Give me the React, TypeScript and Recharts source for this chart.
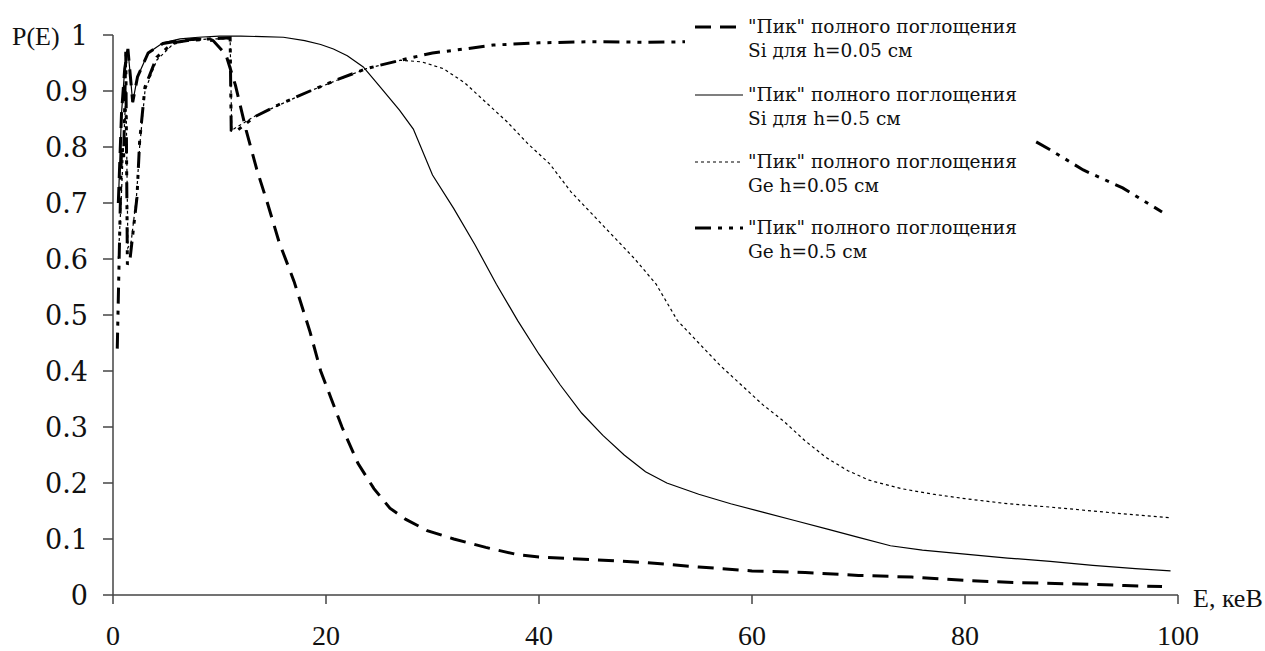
import React from 'react';
import { LineChart, Line, XAxis, YAxis, Legend, Label } from 'recharts';

// [E (keV), P(E)] pairs
const siThin: [number, number][] = [
  [0.5, 0.7], [0.8, 0.86], [1.1, 0.94], [1.4, 0.975], [1.85, 0.88], [2.3, 0.925], [3.3, 0.968],
  [4.7, 0.985], [6.3, 0.99], [8, 0.993], [9.4, 0.99], [10.6, 0.965], [11.5, 0.91], [12.5, 0.83],
  [13.5, 0.76], [14.5, 0.7], [15.6, 0.63], [17, 0.56], [18.5, 0.47], [19.5, 0.4], [20.5, 0.35],
  [21.5, 0.3], [23, 0.235], [24.5, 0.19], [26, 0.155], [27.5, 0.135], [29.5, 0.115], [32, 0.1],
  [35, 0.085], [38, 0.072], [40, 0.068], [45, 0.063], [50, 0.058], [55, 0.05], [60, 0.043],
  [65, 0.04], [70, 0.035], [75, 0.032], [80, 0.026], [85, 0.022], [90, 0.02], [95, 0.017], [98.5, 0.015],
];

const siThick: [number, number][] = [
  [0.5, 0.7], [0.8, 0.86], [1.1, 0.94], [1.4, 0.975], [1.85, 0.88], [2.3, 0.925], [3.3, 0.968],
  [4.7, 0.986], [6.3, 0.993], [8, 0.996], [10, 0.998], [12, 0.998], [14, 0.997], [16, 0.996],
  [18, 0.99], [19.5, 0.983], [20.7, 0.975], [22, 0.963], [23.5, 0.943], [25.1, 0.907], [26.9, 0.866],
  [28.2, 0.832], [30, 0.75], [32, 0.69], [34, 0.625], [36, 0.555], [38, 0.49], [40, 0.43], [42, 0.375],
  [44, 0.325], [46, 0.285], [48, 0.25], [50, 0.22], [52, 0.2], [55, 0.18], [58, 0.163], [61, 0.148],
  [64, 0.133], [67, 0.118], [70, 0.103], [73, 0.088], [76, 0.08], [80, 0.073], [84, 0.066], [88, 0.06],
  [92, 0.053], [96, 0.047], [99.3, 0.043],
];

const geThin: [number, number][] = [
  [0.5, 0.6], [0.8, 0.72], [1.1, 0.85], [1.22, 0.9], [1.4, 0.62], [1.7, 0.63], [2.2, 0.71], [2.5, 0.8],
  [3, 0.9], [4.1, 0.955], [5.6, 0.983], [7, 0.99], [9, 0.993], [11, 0.993], [11.15, 0.83], [13.3, 0.855],
  [18.5, 0.9], [23.8, 0.94], [27, 0.955], [29, 0.952], [31, 0.94], [33, 0.915], [35, 0.88], [37, 0.845],
  [39, 0.805], [41, 0.77], [43, 0.72], [45, 0.68], [47, 0.64], [49, 0.6], [51, 0.555], [53, 0.49],
  [55, 0.45], [57, 0.41], [59, 0.375], [61, 0.34], [63, 0.31], [65, 0.275], [67, 0.245], [69, 0.222],
  [71, 0.205], [74, 0.19], [77, 0.18], [80, 0.172], [84, 0.163], [88, 0.157], [92, 0.15], [96, 0.143],
  [99.3, 0.138],
];

const geThick: [number, number][] = [
  [0.4, 0.44], [0.6, 0.62], [0.8, 0.8], [1.0, 0.78], [1.2, 0.97], [1.35, 0.59], [1.6, 0.6], [2.25, 0.71],
  [2.5, 0.81], [3, 0.907], [4.1, 0.96], [5.6, 0.986], [7, 0.99], [9, 0.993], [11, 0.995], [11.1, 0.83],
  [11.5, 0.827], [13.3, 0.854], [15.5, 0.875], [18.5, 0.9], [21, 0.92], [23.8, 0.94], [27, 0.955],
  [30, 0.968], [33, 0.975], [35.7, 0.982], [40, 0.986], [45, 0.988], [50, 0.987], [54, 0.988],
  [62, 0.97], [70, 0.94], [78, 0.89], [86.6, 0.81], [88, 0.795], [91.1, 0.759], [94.8, 0.727], [98.5, 0.684],
];

const xTicks = [0, 20, 40, 60, 80, 100];
const yTicks = [0, 0.1, 0.2, 0.3, 0.4, 0.5, 0.6, 0.7, 0.8, 0.9, 1];

const legendTitle = '"Пик" полного поглощения';
const legendSubs = ['Si для h=0.05 см', 'Si для h=0.5 см', 'Ge h=0.05 см', 'Ge h=0.5 см'];

const series = [
  { key: 'siThin', points: siThin, width: 3, dash: '16 9' },
  { key: 'siThick', points: siThick, width: 1.2, dash: undefined as string | undefined },
  { key: 'geThin', points: geThin, width: 1.2, dash: '3 3' },
  { key: 'geThick', points: geThick, width: 3, dash: '16 7 4 7 4 7' },
];

const toRows = (pts: [number, number][]) => pts.map(([x, y]) => ({ x, y }));

const LEG_LEFT = 685;
const LEG_TOP = 4;
const legendRowY = [27, 95, 162, 228];

const LegendContent = () => (
  <svg width={350} height={262} style={{ display: 'block' }}>
    {series.map((s, i) => {
      const cy = legendRowY[i] - LEG_TOP;
      return (
        <g key={s.key}>
          <line x1={10} x2={58} y1={cy} y2={cy} stroke="#000" strokeWidth={s.width} strokeDasharray={s.dash} />
          <text x={63} y={cy + 6} fontFamily="DejaVu Serif" fontSize={18.5} fill="#111">{legendTitle}</text>
          <text x={63} y={cy + 30} fontFamily="DejaVu Serif" fontSize={18.5} fill="#111">{legendSubs[i]}</text>
        </g>
      );
    })}
  </svg>
);

export default function App() {
  return (
    <div style={{ position: 'absolute', left: 0, top: 0, width: 1265, height: 651, background: '#fff' }}>
      <LineChart width={1265} height={651} margin={{ top: 35, right: 87, bottom: 0, left: 0 }}>
        <XAxis
          type="number"
          dataKey="x"
          domain={[0, 100]}
          ticks={xTicks}
          allowDataOverflow
          tickSize={9}
          tickMargin={21}
          height={56}
          stroke="#444"
          strokeWidth={1.5}
          tick={{ fontFamily: 'Liberation Serif', fontSize: 28, fill: '#111' }}
        >
          <Label
            content={() => (
              <text x={1193} y={607} fontFamily="Liberation Serif" fontSize={26} fill="#111">E, кеВ</text>
            )}
          />
        </XAxis>
        <YAxis
          type="number"
          domain={[0, 1]}
          ticks={yTicks}
          allowDataOverflow
          width={113}
          tickSize={10}
          tickMargin={15}
          stroke="#444"
          strokeWidth={1.5}
          tickFormatter={(v: number) => String(v)}
          tick={{ fontFamily: 'DejaVu Serif', fontSize: 27, fill: '#111' }}
        >
          <Label
            content={() => (
              <text x={12} y={45} fontFamily="Liberation Serif" fontSize={26} fill="#111">P(E)</text>
            )}
          />
        </YAxis>
        {series.map((s) => (
          <Line
            key={s.key}
            data={toRows(s.points)}
            dataKey="y"
            type="linear"
            stroke="#000"
            strokeWidth={s.width}
            strokeDasharray={s.dash}
            dot={false}
            activeDot={false}
            isAnimationActive={false}
          />
        ))}
        <Legend
          layout="horizontal"
          verticalAlign="middle"
          align="center"
          content={LegendContent}
          wrapperStyle={{ position: 'absolute', left: LEG_LEFT, top: LEG_TOP, width: 350, height: 262, background: '#fff', margin: 0, padding: 0 }}
        />
      </LineChart>
    </div>
  );
}
